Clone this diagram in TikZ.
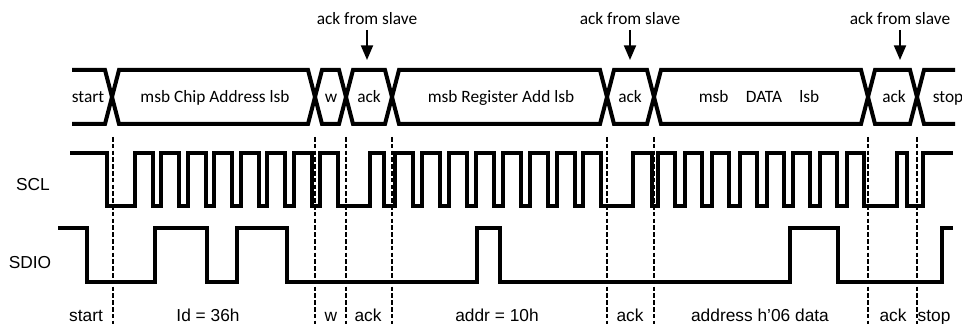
\documentclass[tikz,border=0pt]{standalone}
\usepackage{fontspec}
\newfontfamily\calibri{Carlito}
\newfontfamily\arial{Liberation Sans}
\usetikzlibrary{arrows.meta}
\usetikzlibrary{positioning}

\tikzset{
  wave/.style={line width=3pt},
  bus/.style={line width=3pt},
  guide/.style={line width=1pt, dash pattern=on 3.4pt off 1.7pt},
  buslabel/.style={font=\calibri\fontsize{13}{15}\selectfont, anchor=base, inner sep=0pt},
  siglabel/.style={font=\arial\fontsize{13}{15}\selectfont, anchor=base, inner sep=0pt},
  slave/.style={font=\calibri\fontsize{13}{15}\selectfont, inner sep=0pt, outer sep=3.75pt},
  ackarrow/.style={line width=1.5pt, -{Triangle[width=9pt,length=11pt]}},
}

\begin{document}
\begin{tikzpicture}[x=0.75pt, y=-0.75pt]
  \useasboundingbox (0,0) rectangle (962,324);

  \foreach \c in {113,315,346,392,607,654,868,917}
    \draw[guide] (\c,137) -- (\c,324);

  \draw[bus] (72,70)
    foreach \c/\u/\v in {112/70/124, 315/124/70, 346/70/124, 392/124/70,
                         607/70/124, 654/124/70, 868/70/124, 917/124/70}
    { -- (\c-7,\u) -- (\c+7,\v) } -- (955,70);
  \draw[bus] (72,124)
    foreach \c/\v/\u in {112/70/124, 315/124/70, 346/70/124, 392/124/70,
                         607/70/124, 654/124/70, 868/70/124, 917/124/70}
    { -- (\c-7,\u) -- (\c+7,\v) } -- (955,124);

  \foreach \x/\t [count=\i] in {88/start, 215/msb Chip Address lsb, 331/w, 369/ack,
      501/msb Register Add lsb, 630/ack, 759/msb\hspace{1em}DATA\hspace{1em}lsb,
      894/ack, 948/stop}
    \node[buslabel] (bus\i) at (\x,103) {\t};

  \coordinate (tip1) at (367,60);
  \coordinate (tip2) at (630,60);
  \coordinate (tip3) at (900,60);
  \node[slave, above=22.5pt of tip1] (from1) {ack from slave};
  \node[slave, above=22.5pt of tip2] (from2) {ack from slave};
  \node[slave, above=22.5pt of tip3] (from3) {ack from slave};
  \draw[ackarrow] (from1) -- (tip1);
  \draw[ackarrow] (from2) -- (tip2);
  \draw[ackarrow] (from3) -- (tip3);

  \node[siglabel] (scl) at (33,190) {SCL};
  \node[siglabel] (sdio) at (30,268) {SDIO};

  \draw[wave] (70,153) -- (107,153) -- (107,206)
    foreach \r/\w in {134.5/18, 161/18, 187.5/18, 214/18, 240.5/18, 267/18, 293.5/18, 320/18,
                      370/14,
                      395/17.5, 422/17.5, 449/17.5, 476/17.5, 503/17.5, 530/17.5, 557/17.5, 583/17.5,
                      633/19,
                      658/17, 685/17, 712/17, 739.5/17, 766.5/17, 793/17, 820/17, 847/17,
                      897/10}
    { -- (\r,206) -- (\r,153) -- (\r+\w,153) -- (\r+\w,206) }
    -- (923,206) -- (923,153) -- (953,153);

  \draw[wave] (58,228) -- (87,228) -- (87,282) -- (155,282) -- (155,228) -- (207,228)
    -- (207,282) -- (237,282) -- (237,228) -- (287,228) -- (287,282) -- (477,282)
    -- (477,228) -- (500,228) -- (500,282) -- (790,282) -- (790,228) -- (838,228)
    -- (838,282) -- (942,282) -- (942,228) -- (953,228);

  \foreach \x/\t [count=\i] in {86/start, 208/Id = 36h, 331/w, 368/ack, 497/addr = 10h,
      630/ack, 760/address h’06 data, 893/ack, 934/stop}
    \node[siglabel] (bit\i) at (\x,321) {\t};
\end{tikzpicture}
\end{document}
